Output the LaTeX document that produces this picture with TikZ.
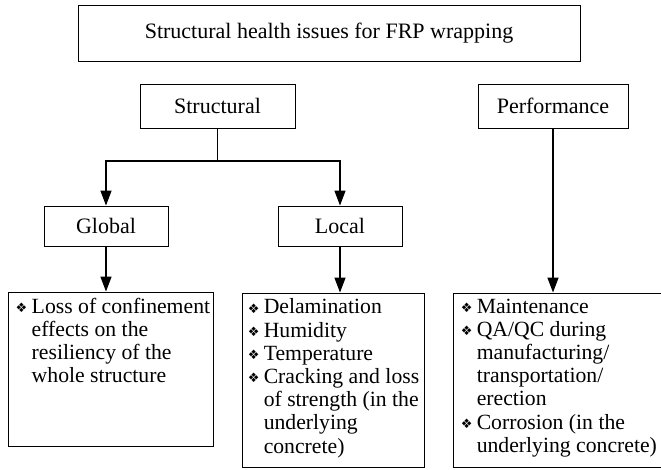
\documentclass[tikz,border=0pt]{standalone}
\usepackage{fontspec}
\setmainfont{Liberation Serif}
\newfontfamily\dingfont{DejaVu Sans}
\usetikzlibrary{arrows.meta}
\tikzset{>={Triangle[length=15pt,width=11pt]}}
% list bullet and hanging indent
\newcommand{\itm}{\makebox[16pt][l]{\raisebox{0.5pt}{\dingfont\fontsize{13}{13}\selectfont ❖}}}
\newcommand{\ind}{\hspace*{16pt}}

\begin{document}
\begin{tikzpicture}[x=1pt, y=-1pt,
	box/.style={draw, line width=0.9pt, inner sep=0pt, font=\fontsize{22}{24}\selectfont},
	listbox/.style={draw, line width=0.9pt, inner sep=0pt},
	listtext/.style={anchor=north west, inner sep=0pt, align=left, font=\fontsize{21.7}{23.2}\selectfont},
	link/.style={line width=1.4pt}]
\useasboundingbox (0,0) rectangle (661,470);

% draw title node
\node[box, minimum width=502pt, minimum height=56pt] (issues) at (329,33) {Structural health issues for FRP wrapping};

% draw category nodes
\node[box, minimum width=155pt, minimum height=44pt] (structural) at (217.5,106) {Structural};
\node[box, minimum width=150pt, minimum height=44pt] (performance) at (553,106) {Performance};

\node[box, minimum width=124pt, minimum height=40pt] (global) at (106,226) {Global};
\node[box, minimum width=124pt, minimum height=40pt] (local) at (340,226) {Local};

% draw list frames
\node[listbox, minimum width=205pt, minimum height=154pt] (globalitems) at (110.5,369) {};
\node[listbox, minimum width=182pt, minimum height=174pt] (localitems) at (333,380) {};
\node[listbox, minimum width=210pt, minimum height=174pt] (perfitems) at (558,380) {};

% list contents
\node[listtext] (globaltext) at ([shift={(8pt,-6pt)}]globalitems.north west)
	{\itm Loss of confinement\\ \ind effects on the\\ \ind resiliency of the\\ \ind whole structure};
\node[listtext] (localtext) at ([shift={(6pt,-6pt)}]localitems.north west)
	{\itm Delamination\\ \itm Humidity\\ \itm Temperature\\ \itm Cracking and loss\\ \ind of strength (in the\\ \ind underlying\\ \ind concrete)};
\node[listtext] (perftext) at ([shift={(8pt,-6pt)}]perfitems.north west)
	{\itm Maintenance\\ \itm QA/QC during\\ \ind manufacturing/\\ \ind transportation/\\ \ind erection\\ \itm Corrosion (in the\\ \ind underlying concrete)};

% connectors
\coordinate (fork) at (217.5,161);
\draw[link] (structural.south) -- (fork);
\draw[link,->] (fork) -| (global.north);
\draw[link,->] (fork) -| (local.north);
\draw[link,->] (global.south) -- (global.south |- globalitems.north);
\draw[link,->] (local.south) -- (local.south |- localitems.north);
\draw[link,->] (performance.south) -- (performance.south |- perfitems.north);
\end{tikzpicture}
\end{document}
